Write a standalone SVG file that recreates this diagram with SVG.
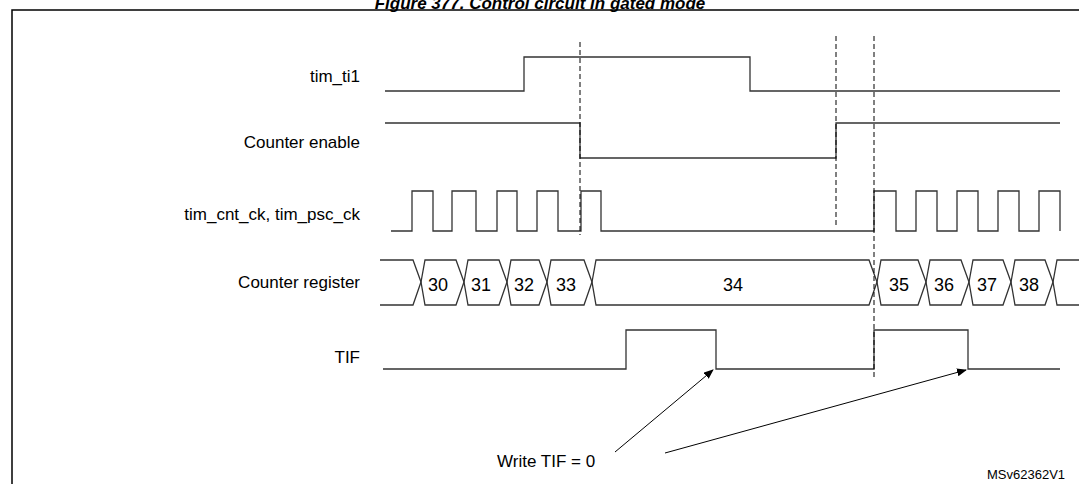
<svg xmlns="http://www.w3.org/2000/svg" width="1079" height="484" viewBox="0 0 1079 484">
<defs><marker id="ah" markerWidth="10" markerHeight="8" refX="9" refY="4" orient="auto" markerUnits="userSpaceOnUse"><path d="M0,0 L10,4 L0,8 z" fill="#000"/></marker></defs>
<style>
text{font-family:"Liberation Sans",Arial,sans-serif;font-size:17px;fill:#000}
.lbl{text-anchor:end}
.w{fill:none;stroke:#333;stroke-width:1.3}
.d{fill:none;stroke:#000;stroke-width:1;stroke-dasharray:5,3}
.n{text-anchor:middle;font-size:18px}
</style>
<rect width="1079" height="484" fill="#fff"/>
<text x="540" y="9" style="text-anchor:middle;font-weight:bold;font-style:italic;font-size:17px">Figure 377. Control circuit in gated mode</text>
<rect x="12" y="10" width="1080" height="490" fill="none" stroke="#000" stroke-width="1.5"/>
<g id="labels">
<text x="360" y="82" class="lbl">tim_ti1</text>
<text x="360" y="148" class="lbl">Counter enable</text>
<text x="360" y="220" class="lbl">tim_cnt_ck, tim_psc_ck</text>
<text x="360" y="288" class="lbl">Counter register</text>
<text x="360" y="363" class="lbl">TIF</text>
</g>
<g id="tim_ti1"><path class="w" d="M385,91 H524 V57 H750 V91 H1060"/></g>
<g id="counter_enable"><path class="w" d="M385,123 H580 V158 H836 V123 H1060"/></g>
<g id="clock"><path class="w" d="M391,231 H412 V191 H433 V231 H452 V191 H476 V231 H497 V191 H517 V231 H537 V191 H558 V231 H581 V191 H601 V231 H874 V191 H896 V231 H916 V191 H937 V231 H957 V191 H978 V231 H998 V191 H1019 V231 H1039 V191 H1060 V231"/></g>
<g id="counter_register">
<path class="w" d="M380,260 H413 L421,282 L413,305 H380"/>
<path class="w" d="M421,282 L425,260 H456 L464,282 L456,305 H425 Z"/>
<path class="w" d="M464,282 L468,260 H499 L507,282 L499,305 H468 Z"/>
<path class="w" d="M507,282 L511,260 H539 L547,282 L539,305 H511 Z"/>
<path class="w" d="M547,282 L551,260 H584 L592,282 L584,305 H551 Z"/>
<path class="w" d="M592,282 L596,260 H869 L877,282 L869,305 H596 Z"/>
<path class="w" d="M877,282 L881,260 H918 L926,282 L918,305 H881 Z"/>
<path class="w" d="M926,282 L930,260 H961 L969,282 L961,305 H930 Z"/>
<path class="w" d="M969,282 L973,260 H1003 L1011,282 L1003,305 H973 Z"/>
<path class="w" d="M1011,282 L1015,260 H1045 L1053,282 L1045,305 H1015 Z"/>
<path class="w" d="M1079,260 H1057 L1053,282 L1057,305 H1079"/>
<text x="438" y="291" class="n">30</text>
<text x="481" y="291" class="n">31</text>
<text x="524" y="291" class="n">32</text>
<text x="566" y="291" class="n">33</text>
<text x="733" y="291" class="n">34</text>
<text x="899" y="291" class="n">35</text>
<text x="944" y="291" class="n">36</text>
<text x="987" y="291" class="n">37</text>
<text x="1029" y="291" class="n">38</text>
</g>
<g id="tif"><path class="w" d="M383,369 H626 V330 H716 V369 H874 V330 H968 V369 H1060"/></g>
<g id="connectors">
<line class="d" x1="580" y1="42" x2="580" y2="235"/>
<line class="d" x1="836" y1="36" x2="836" y2="228"/>
<line class="d" x1="874" y1="36" x2="874" y2="380"/>
<line x1="615" y1="452" x2="713" y2="370" stroke="#000" stroke-width="1" marker-end="url(#ah)"/>
<line x1="665" y1="453" x2="966" y2="370" stroke="#000" stroke-width="1" marker-end="url(#ah)"/>
</g>
<text x="497" y="467">Write TIF = 0</text>
<text x="987" y="479" style="font-size:13px">MSv62362V1</text>
</svg>
